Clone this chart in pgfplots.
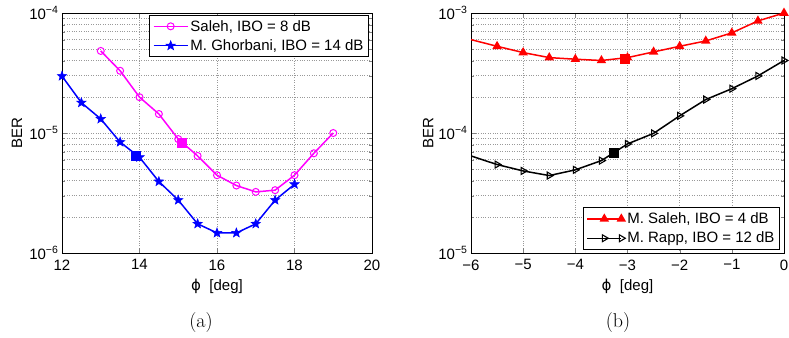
\documentclass[border=0pt]{standalone}
\usepackage{fontspec}
\usepackage{pgfplots}
\pgfplotsset{compat=1.18}
\newfontfamily\arial{Liberation Sans}
\newfontfamily\dejavu{DejaVu Sans}
\definecolor{mag}{rgb}{1,0,1}
\definecolor{pblue}{rgb}{0,0,1}
\definecolor{pred}{rgb}{1,0,0}

\pgfdeclareplotmark{fstar}{%
\pgfpathmoveto{\pgfpointpolar{90}{\pgfplotmarksize}}%
\pgfpathlineto{\pgfpointpolar{126}{0.42\pgfplotmarksize}}%
\pgfpathlineto{\pgfpointpolar{162}{\pgfplotmarksize}}%
\pgfpathlineto{\pgfpointpolar{198}{0.42\pgfplotmarksize}}%
\pgfpathlineto{\pgfpointpolar{234}{\pgfplotmarksize}}%
\pgfpathlineto{\pgfpointpolar{270}{0.42\pgfplotmarksize}}%
\pgfpathlineto{\pgfpointpolar{306}{\pgfplotmarksize}}%
\pgfpathlineto{\pgfpointpolar{342}{0.42\pgfplotmarksize}}%
\pgfpathlineto{\pgfpointpolar{18}{\pgfplotmarksize}}%
\pgfpathlineto{\pgfpointpolar{54}{0.42\pgfplotmarksize}}%
\pgfpathclose\pgfusepathqfillstroke}

\begin{document}
\begin{tikzpicture}
\path[use as bounding box] (0,0) rectangle (789pt,337pt);

\begin{axis}[
  scale only axis, height=240pt, ymode=log,
  axis line style={line width=0.9pt},
  tick align=inside,
  major tick length=5pt, minor tick length=3pt,
  xmajorgrids, ymajorgrids, yminorgrids,
  major grid style={dotted, gray!80, line width=0.6pt},
  minor grid style={dotted, gray!80, line width=0.6pt},
  tick label style={font=\arial\fontsize{15}{17}\selectfont},
  xticklabel style={yshift=-3pt},
  /pgf/number format/assume math mode=true,
  legend style={font=\arial\fontsize{15}{17}\selectfont, draw=black, line width=0.9pt, inner sep=3pt, row sep=3pt},
  legend cell align=left,
  legend image code/.code={\draw[mark repeat=2,mark phase=2] plot coordinates {(0pt,0pt)(17pt,0pt)(34pt,0pt)};},
  at={(62pt,84pt)}, anchor=south west, width=310pt,
  xmin=12, xmax=20, ymin=1e-6, ymax=1e-4,
  xtick={12,14,16,18,20},
  ytick={1e-6,1e-5,1e-4},
  yticklabels={10\textsuperscript{−6},10\textsuperscript{−5},10\textsuperscript{−4}},
  minor ytick={2e-6,3e-6,4e-6,5e-6,6e-6,7e-6,8e-6,9e-6,2e-5,3e-5,4e-5,5e-5,6e-5,7e-5,8e-5,9e-5},
  xlabel={{\dejavu ϕ}\ \ [deg]}, ylabel={BER},
  every axis x label/.style={at={(axis description cs:0.5,-0.1375)},anchor=center,font=\arial\fontsize{15}{17}\selectfont},
  every axis y label/.style={at={(axis description cs:-0.145,0.5)},rotate=90,anchor=center,font=\arial\fontsize{15}{17}\selectfont},
  legend style={at={(rel axis cs:0.99,0.993)}, anchor=north east},
]
\addplot[mag, line width=1.5pt, mark=o, mark size=3.5pt, mark options={line width=1pt}]
 coordinates {(13,4.83e-5)(13.5,3.3e-5)(14,1.99e-5)(14.5,1.44e-5)(15,8.9e-6)(15.5,6.44e-6)(16,4.45e-6)(16.5,3.65e-6)(17,3.23e-6)(17.5,3.34e-6)(18,4.45e-6)(18.5,6.78e-6)(19,1.0e-5)};
\addlegendentry{Saleh, IBO = 8 dB}
\addplot[pblue, line width=1.5pt, mark=fstar, mark size=5pt, mark options={fill=pblue, line width=0.5pt}]
 coordinates {(12,2.98e-5)(12.5,1.79e-5)(13,1.31e-5)(13.5,8.4e-6)(14,6.28e-6)(14.5,3.94e-6)(15,2.76e-6)(15.5,1.75e-6)(16,1.47e-6)(16.5,1.47e-6)(17,1.75e-6)(17.5,2.76e-6)(18,3.74e-6)};
\addlegendentry{M. Ghorbani, IBO = 14 dB}
\addplot[only marks, mag, mark=square*, mark size=4.5pt, forget plot] coordinates {(15.1,8.3e-6)};
\addplot[only marks, pblue, mark=square*, mark size=4.5pt, forget plot] coordinates {(13.9,6.45e-6)};
\end{axis}

\begin{axis}[
  scale only axis, height=240pt, ymode=log,
  axis line style={line width=0.9pt},
  tick align=inside,
  major tick length=5pt, minor tick length=3pt,
  xmajorgrids, ymajorgrids, yminorgrids,
  major grid style={dotted, gray!80, line width=0.6pt},
  minor grid style={dotted, gray!80, line width=0.6pt},
  tick label style={font=\arial\fontsize{15}{17}\selectfont},
  xticklabel style={yshift=-3pt},
  /pgf/number format/assume math mode=true,
  legend style={font=\arial\fontsize{15}{17}\selectfont, draw=black, line width=0.9pt, inner sep=3pt, row sep=3pt},
  legend cell align=left,
  legend image code/.code={\draw[mark repeat=2,mark phase=2] plot coordinates {(0pt,0pt)(17pt,0pt)(34pt,0pt)};},
  at={(471pt,84pt)}, anchor=south west, width=313pt,
  xmin=-6, xmax=0, ymin=1e-5, ymax=1e-3,
  xtick={-6,-5,-4,-3,-2,-1,0},
  xticklabels={−6,−5,−4,−3,−2,−1,0},
  ytick={1e-5,1e-4,1e-3},
  yticklabels={10\textsuperscript{−5},10\textsuperscript{−4},10\textsuperscript{−3}},
  minor ytick={2e-5,3e-5,4e-5,5e-5,6e-5,7e-5,8e-5,9e-5,2e-4,3e-4,4e-4,5e-4,6e-4,7e-4,8e-4,9e-4},
  xlabel={{\dejavu ϕ}\ \ [deg]}, ylabel={BER},
  every axis x label/.style={at={(axis description cs:0.5,-0.1375)},anchor=center,font=\arial\fontsize{15}{17}\selectfont},
  every axis y label/.style={at={(axis description cs:-0.137,0.5)},rotate=90,anchor=center,font=\arial\fontsize{15}{17}\selectfont},
  legend style={at={(rel axis cs:0.987,0.013)}, anchor=south east},
]
\addplot[pred, line width=1.5pt, mark=triangle*, mark size=4pt, mark indices={2,3,4,5,6,7,8,9,10,11,12,13}]
 coordinates {(-6,6.0e-4)(-5.5,5.28e-4)(-5,4.68e-4)(-4.5,4.25e-4)(-4,4.12e-4)(-3.5,4.02e-4)(-3,4.25e-4)(-2.5,4.74e-4)(-2,5.28e-4)(-1.5,5.85e-4)(-1,6.83e-4)(-0.5,8.59e-4)(0,1e-3)};
\addlegendentry{M. Saleh, IBO = 4 dB}
\addplot[black, line width=1.5pt, mark=triangle, mark size=4pt, mark options={rotate=-90, line width=1.1pt}, mark indices={2,3,4,5,6,7,8,9,10,11,12,13}]
 coordinates {(-6,6.44e-5)(-5.5,5.46e-5)(-5,4.83e-5)(-4.5,4.42e-5)(-4,4.93e-5)(-3.5,5.89e-5)(-3,8.11e-5)(-2.5,9.93e-5)(-2,1.39e-4)(-1.5,1.9e-4)(-1,2.34e-4)(-0.5,2.99e-4)(0,4.02e-4)};
\addlegendentry{M. Rapp, IBO = 12 dB}
\addplot[only marks, pred, mark=square*, mark size=4.5pt, forget plot] coordinates {(-3.06,4.17e-4)};
\addplot[only marks, black, mark=square*, mark size=4.5pt, forget plot] coordinates {(-3.27,6.9e-5)};
\end{axis}

\node[font=\fontsize{20}{22}\selectfont] at (201pt,14pt) {(a)};
\node[font=\fontsize{20}{22}\selectfont] at (618pt,14pt) {(b)};
\end{tikzpicture}
\end{document}
